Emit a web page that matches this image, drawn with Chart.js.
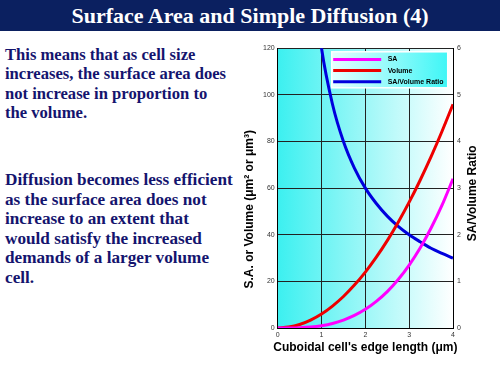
<!DOCTYPE html>
<html>
<head>
<meta charset="utf-8">
<script src="https://cdn.jsdelivr.net/npm/chart.js@4/dist/chart.umd.min.js"></script>
<style>
  html, body { margin:0; padding:0; background:#fff; width:500px; height:375px; overflow:hidden; }
  #title { position:absolute; left:0; top:0; width:500px; height:31px; background:#0b2060;
           color:#fff; font-family:"Liberation Serif","Times New Roman",serif; font-weight:bold;
           font-size:22px; line-height:31px; text-align:center; }
  .para { position:absolute; left:5px; color:#14146e; font-family:"Liberation Serif","Times New Roman",serif;
          font-weight:bold; white-space:nowrap; }
  #p1 { top:45px; line-height:19.3px; font-size:16.6px; }
  #p2 { top:170px; line-height:19.6px; font-size:17.2px; }
  #wrap { position:absolute; left:232px; top:40px; width:268px; height:325px; }
</style>
</head>
<body>
<div id="title">Surface Area and Simple Diffusion (4)</div>
<div id="p1" class="para">This means that as cell size<br>increases, the surface area does<br>not increase in proportion to<br>the volume.</div>
<div id="p2" class="para">Diffusion becomes less efficient<br>as the surface area does not<br>increase to an extent that<br>would satisfy the increased<br>demands of a larger volume<br>cell.</div>
<div id="wrap"><canvas id="c" width="268" height="325"></canvas></div>
<script>
const edgeLength = [0, 0.25, 0.5, 0.75, 1, 1.25, 1.5, 1.75, 2, 2.25, 2.5, 2.75, 3, 3.25, 3.5, 3.75, 4];
const saValues = [0, 0.02, 0.13, 0.42, 1, 1.95, 3.4, 5.4, 8, 11.4, 15.6, 20.8, 27, 34.3, 42.9, 52.7, 64];
const volumeValues = [0, 0.4, 1.5, 3.4, 6, 9.4, 13.5, 18.4, 24, 30.4, 37.5, 45.4, 54, 63.4, 73.5, 84.4, 96];
const ratioValues = [null, null, null, 8, 6, 4.8, 4, 3.43, 3, 2.67, 2.4, 2.18, 2, 1.85, 1.71, 1.6, 1.5];
const seriesLabels = ['SA', 'Volume', 'SA/Volume Ratio'];
const xTitle = "Cuboidal cell's edge length (\u03bcm)";
const yTitle = 'S.A. or Volume (\u03bcm\u00b2 or \u03bcm\u00b3)';
const y2Title = 'SA/Volume Ratio';

function pts(vals) {
  const out = [];
  edgeLength.forEach((x, i) => { if (vals[i] !== null) out.push({x: x, y: vals[i]}); });
  return out;
}

const bgPlugin = {
  id: 'bg',
  beforeDraw(chart) {
    const {ctx, chartArea: a} = chart;
    const g = ctx.createLinearGradient(a.left, 0, a.right, 0);
    g.addColorStop(0, '#3cf0f0');
    g.addColorStop(1, '#ffffff');
    ctx.save();
    ctx.fillStyle = g;
    ctx.fillRect(a.left, a.top, a.right - a.left, a.bottom - a.top);
    ctx.restore();
  }
};

const legendPlugin = {
  id: 'boxLegend',
  afterDatasetsDraw(chart) {
    const {ctx, chartArea: a} = chart;
    const bx = a.left + 54, by = a.top + 3.5, bw = 116, bh = 36;
    ctx.save();
    const g = ctx.createLinearGradient(bx, 0, bx + bw, 0);
    g.addColorStop(0, '#e6ffff');
    g.addColorStop(1, '#3ff6f6');
    ctx.fillStyle = g;
    ctx.fillRect(bx, by, bw, bh);
    ctx.strokeStyle = '#ffffff';
    ctx.lineWidth = 1.5;
    ctx.strokeRect(bx, by, bw, bh);
    ctx.font = 'bold 7px "Liberation Sans", Arial, sans-serif';
    ctx.textBaseline = 'middle';
    ctx.fillStyle = '#000';
    chart.data.datasets.forEach((ds, i) => {
      const yy = by + 7.6 + i * 11.2;
      ctx.strokeStyle = ds.borderColor;
      ctx.lineWidth = 3;
      ctx.beginPath();
      ctx.moveTo(bx + 1.5, yy);
      ctx.lineTo(bx + 49.5, yy);
      ctx.stroke();
      ctx.fillText(ds.label, bx + 56, yy);
    });
    ctx.restore();
  }
};

const titlePlugin = {
  id: 'axisTitles',
  afterDraw(chart) {
    const {ctx, chartArea: a} = chart;
    ctx.save();
    ctx.fillStyle = '#000';
    ctx.font = 'bold 12px "Liberation Sans", Arial, sans-serif';
    ctx.textAlign = 'center';
    ctx.textBaseline = 'middle';
    ctx.fillText(xTitle, (a.left + a.right) / 2, a.bottom + 20);
    ctx.save();
    ctx.translate(18, a.top + 161);
    ctx.rotate(-Math.PI / 2);
    ctx.fillText(yTitle, 0, 0);
    ctx.restore();
    ctx.save();
    ctx.translate(a.right + 20, a.top + 145);
    ctx.rotate(-Math.PI / 2);
    ctx.fillText(y2Title, 0, 0);
    ctx.restore();
    ctx.restore();
  }
};

const tickFont = {size: 7, family: '"Liberation Sans", Arial, sans-serif'};

new Chart(document.getElementById('c'), {
  type: 'line',
  data: {
    datasets: [
      {label: seriesLabels[0], data: pts(saValues), borderColor: '#ff00ff', yAxisID: 'y'},
      {label: seriesLabels[1], data: pts(volumeValues), borderColor: '#ee0000', yAxisID: 'y'},
      {label: seriesLabels[2], data: pts(ratioValues), borderColor: '#0000dd', yAxisID: 'y2'}
    ]
  },
  options: {
    responsive: false,
    animation: false,
    devicePixelRatio: 1,
    layout: {padding: {top: 8.3, left: 0, right: 0, bottom: 0}},
    elements: {
      point: {radius: 0},
      line: {borderWidth: 3, cubicInterpolationMode: 'monotone', fill: false}
    },
    plugins: {legend: {display: false}, tooltip: {enabled: false}},
    scales: {
      x: {
        type: 'linear', min: 0, max: 4,
        ticks: {stepSize: 1, font: tickFont, color: '#333', padding: 3, maxRotation: 0},
        grid: {color: '#222', lineWidth: 1, drawTicks: false},
        border: {color: '#000', width: 1},
        afterFit(s) { s.height = 37; }
      },
      y: {
        position: 'left', min: 0, max: 120,
        ticks: {stepSize: 20, font: tickFont, color: '#333', padding: 3},
        grid: {color: '#222', lineWidth: 1, drawTicks: false},
        border: {color: '#000', width: 1},
        afterFit(s) { s.width = 45.7; }
      },
      y2: {
        position: 'right', min: 0, max: 6,
        ticks: {stepSize: 1, font: tickFont, color: '#333', padding: 4},
        grid: {drawOnChartArea: false, drawTicks: false},
        border: {color: '#000', width: 1},
        afterFit(s) { s.width = 47; }
      }
    }
  },
  plugins: [bgPlugin, legendPlugin, titlePlugin]
});
</script>
</body>
</html>
